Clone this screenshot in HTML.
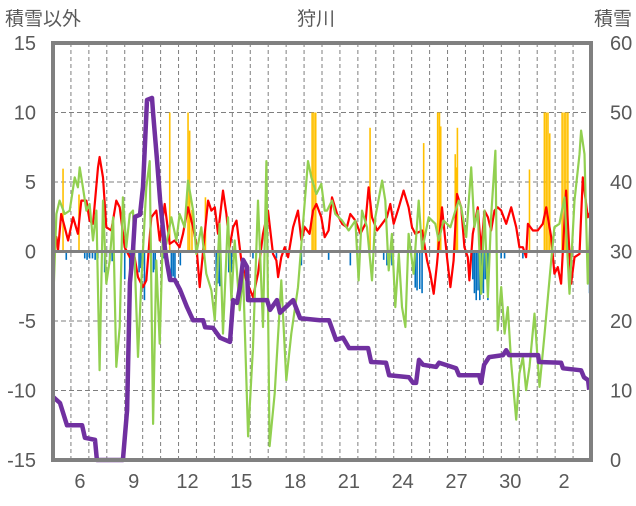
<!DOCTYPE html>
<html><head><meta charset="utf-8">
<style>
html,body{margin:0;padding:0;background:#fff;}
svg text{font-family:"Liberation Sans","Noto Sans CJK JP",sans-serif;fill:#595959;}
</style></head>
<body>
<svg id="chart" width="636" height="501" viewBox="0 0 636 501" xmlns="http://www.w3.org/2000/svg">
<text x="5" y="25" font-size="19">積雪以外</text>
<text x="316" y="25" font-size="19" text-anchor="middle">狩川</text>
<text x="632" y="25" font-size="19" text-anchor="end">積雪</text>
<g id="grid"></g>
<g id="bars"></g>
<g id="lines"></g>
<g id="frame"></g>
<g id="labels"></g>
</svg>
<script>
const dayLabels = ["6","9","12","15","18","21","24","27","30","2"];
const dayLabelIdx = [1,4,7,10,13,16,19,22,25,28];
const leftTicks = [15,10,5,0,-5,-10,-15];
const rightTicks = [60,50,40,30,20,10,0];

const redT = [0,.19,.28,.46,.65,.84,1.12,1.39,1.58,1.86,2.04,2.23,2.51,2.6,2.79,2.97,3.25,3.53,3.72,4.0,4.28,4.55,4.74,5.02,5.2,5.48,5.76,5.95,6.23,6.51,6.78,7.06,7.25,
7.53,7.81,7.99,8.18,8.46,8.65,8.83,9.02,9.2,9.48,9.67,9.85,10.04,10.23,10.5,10.78,11.15,11.43,11.71,11.99,12.27,12.46,12.55,12.73,12.92,13.11,13.39,13.66,13.85,14.04,14.31,14.5,14.69,14.96,
15.15,15.37,15.56,15.84,16.12,16.39,16.58,16.86,17.14,17.42,17.6,17.79,18.07,18.35,18.62,18.81,19.0,19.28,19.55,19.83,20.02,20.2,20.58,20.86,21.04,21.23,21.41,21.69,21.97,22.16,22.34,22.53,
22.76,22.94,23.13,23.22,23.41,23.69,23.87,24.06,24.25,24.43,24.62,24.8,24.99,25.27,25.55,25.83,26.01,26.2,26.38,26.48,26.76,27.03,27.31,27.5,27.78,27.96,28.15,28.33,28.61,28.89,29.08,29.36,29.54,29.82,30.0];
const redV = [1.27,1.03,0.07,2.7,1.75,0.79,2.46,1.27,3.66,3.66,2.22,1.99,6.05,6.8,5.33,1.75,1.51,3.66,3.18,0.31,-0.41,-0.41,-1.84,-2.56,-2.08,2.46,2.94,0.79,3.42,0.55,0.79,0.31,1.27,
3.18,1.75,0.55,-2.56,1.27,3.66,2.94,3.18,1.27,4.38,2.7,0.31,1.75,2.22,-0.65,-2.08,-3.28,-1.6,1.27,2.94,-0.17,-0.65,-1.84,-0.41,0.31,-0.41,1.75,2.94,0.79,1.75,1.27,2.94,3.42,2.46,
1.03,1.51,3.9,2.7,1.99,1.75,2.7,2.22,1.27,1.99,4.62,2.46,1.51,1.99,2.46,3.42,1.99,3.18,4.38,3.18,1.75,1.27,1.51,-0.65,-1.6,-3.04,-0.89,3.18,-0.41,-2.56,-0.65,4.14,
3.18,0.31,-0.41,-2.08,1.27,3.18,0.07,2.94,2.46,1.51,2.94,3.18,2.94,1.99,3.18,1.75,0.31,0.31,-0.41,1.99,1.51,1.51,1.99,3.18,1.03,-1.6,-1.12,-2.32,4.38,-2.32,-0.41,-0.17,5.33,2.46,2.94];

const greenT = [0,.19,.37,.65,.93,1.21,1.39,1.49,1.67,1.86,2.04,2.23,2.42,2.6,2.79,2.97,3.16,3.35,3.53,3.72,3.9,4.09,4.28,4.46,4.74,4.93,5.2,5.39,5.58,5.76,5.95,6.13,6.32,6.6,6.88,7.06,7.34,
7.53,7.81,7.99,8.27,8.55,8.83,9.02,9.29,9.48,9.76,9.95,10.13,10.41,10.6,10.88,11.15,11.43,11.71,11.9,12.08,12.36,12.73,13.01,13.29,13.66,13.94,14.22,14.41,14.69,14.96,15.15,
15.28,15.56,15.74,16.12,16.49,16.86,17.04,17.23,17.51,17.79,17.97,18.35,18.53,18.72,18.9,19.09,19.28,19.46,19.65,19.83,20.11,20.39,20.58,20.95,21.32,21.51,21.78,22.16,22.44,22.62,
22.76,23.04,23.32,23.5,23.69,23.87,24.06,24.25,24.43,24.67,24.8,24.99,25.18,25.36,25.55,25.83,26.01,26.2,26.38,26.57,26.85,27.13,27.41,27.78,27.96,28.24,28.52,28.8,29.08,29.36,29.45,29.64,29.82,30.0];
const greenV = [-4.0,2.7,3.66,2.7,2.94,5.33,4.62,6.05,4.62,2.94,3.42,0.79,2.94,-8.54,3.66,-2.32,-0.65,2.46,-8.3,-5.43,3.9,0.31,2.7,2.94,-7.58,-2.08,4.62,6.5,-12.4,-0.65,-6.63,1.27,0.55,2.46,0.79,2.7,1.75,
5.1,2.94,-0.17,1.75,-1.6,-2.8,-4.95,1.99,-5.91,2.46,-3.52,0.79,-4.23,-1.6,-13.3,-6.87,3.66,-5.43,6.5,-14.0,-10.2,-2.08,-9.26,-5.91,-2.56,1.99,6.5,5.33,4.14,4.86,2.94,
2.94,3.66,2.7,2.22,1.51,2.22,-2.08,2.94,1.75,-2.08,2.46,5.1,3.66,-1.36,1.27,-4.0,-0.17,-4.0,-5.43,1.27,-1.6,3.66,0.07,2.46,1.99,0.79,2.22,1.75,2.94,3.66,
3.18,1.03,6.05,1.75,2.94,-3.04,2.94,-3.28,2.46,7.25,-5.67,-2.56,-5.91,-4.0,-8.06,-12.1,-8.78,-7.58,-9.98,-8.3,-4.47,-9.74,-5.91,-0.65,1.75,1.99,3.9,-3.04,3.66,7.0,8.7,7.0,-2.32,3.66];

const snowT = [0,.39,.78,1.62,1.78,2.34,2.45,3.9,4.13,4.29,4.46,4.57,4.85,5.02,5.24,5.52,5.58,5.8,5.97,6.25,6.36,6.53,6.8,7.08,7.47,7.81,8.37,8.48,8.92,9.31,9.87,10.04,10.26,10.43,10.6,10.82,10.88,11.94,12.1,12.49,12.66,13.39,13.78,14.89,15.39,15.78,16.17,16.51,17.57,17.74,18.57,18.74,19.85,20.08,20.25,20.41,20.64,21.36,21.53,22.48,22.64,23.76,23.87,24.04,24.32,25.1,25.27,25.43,27.05,27.1,28.33,28.44,29.45,29.61,29.84,29.9];
const snowV = [9.1,8.2,5.0,5.0,3.2,2.9,0,0,7.2,25.5,30.2,35.0,35.3,39.3,51.8,52.1,49.9,43.2,37.4,30.2,28.3,25.9,25.9,24.5,22.0,20.1,20.1,19.1,19.0,17.6,17.0,23.0,22.6,24.9,28.8,27.8,23.0,23.0,21.6,23.0,21.2,23.0,20.4,20.1,20.1,17.3,17.6,16.1,16.1,14.1,14.0,12.2,11.9,11.1,11.1,14.4,13.7,13.4,14.0,13.2,12.2,12.2,11.1,13.7,14.8,15.1,15.8,15.1,15.1,14.1,14.0,13.2,12.9,11.9,11.5,10.1];

const orangeT = [0.56,1.45,6.51,7.53,7.62,7.75,8.5,14.45,14.55,14.65,17.68,20.67,21.45,21.55,21.62,22.43,22.48,22.55,26.57,27.4,27.5,27.6,27.7,28.39,28.5,28.6,28.71];
const orangeV = [5.96,4.1,10,10,8.7,3.0,3.9,10,10,10,8.9,7.8,10,10,9.0,7.0,6.05,8.9,5.9,10,10,10,8.5,10,10,10,10];
const blueT = [0.74,1.77,1.9,2.04,2.2,2.35,2.5,2.88,3.16,3.3,4.0,4.28,4.8,4.9,5.1,5.6,5.7,6.15,6.3,6.6,6.7,6.8,7.1,8.37,9.1,9.2,9.3,9.8,9.95,11.15,12.46,13.85,15.37,16.58,18.44,18.62,18.9,20.2,20.3,20.45,20.58,23.41,23.5,23.6,23.7,23.8,23.9,24.0,24.1,24.25,24.99,25.18,26.2,29.92];
const blueV = [-0.6,-0.5,-0.6,-0.5,-0.5,-0.6,-0.5,-1.5,-0.7,-0.7,-2.0,-5.0,-1.5,-1.2,-3.5,-1.5,-1.3,-0.5,-0.5,-2.0,-1.8,-2.0,-1.0,-0.5,-2.5,-2.3,-2.5,-1.5,-1.5,-0.5,-0.5,-1.0,-0.6,-1.0,-0.6,-1.0,-1.0,-2.6,-2.8,-2.7,-3.0,-2.0,-3.0,-3.5,-2.8,-3.5,-2.5,-3.0,-2.0,-3.5,-0.5,-0.5,-0.5,-3.0];

const X0 = 53, X1 = 591, Y0 = 43, Y1 = 460, NDAYS = 30;
const NS = 'http://www.w3.org/2000/svg';
function xs(t){ return X0 + t*(X1-X0)/NDAYS; }
function yl(v){ return Y1 - (v+15)*(Y1-Y0)/30; }
function yr(v){ return Y1 - v*(Y1-Y0)/60; }
function mk(tag, attrs, parent){
  const e = document.createElementNS(NS, tag);
  for (const k in attrs) e.setAttribute(k, attrs[k]);
  parent.appendChild(e);
  return e;
}
const grid = document.getElementById('grid');
const bars = document.getElementById('bars');
const lines = document.getElementById('lines');
const frame = document.getElementById('frame');
const labels = document.getElementById('labels');

for (let k = 1; k < NDAYS; k++) {
  const l = mk('line', {x1: xs(k), x2: xs(k), y1: Y0, y2: Y1, stroke: '#7f7f7f', 'stroke-width': 1, 'stroke-dasharray': '4,3'}, grid);
  
  
}
[10,5,-5,-10].forEach(v => {
  const l = mk('line', {x1: X0, x2: X1, y1: yl(v), y2: yl(v), stroke: '#7f7f7f', 'stroke-width': 1, 'stroke-dasharray': '5,3'}, grid);
  
  
});

const bw = 1.6;
orangeT.forEach((t, i) => {
  const r = mk('rect', {x: xs(t) - bw/2, y: yl(orangeV[i]), width: bw, height: yl(0) - yl(orangeV[i]), fill: '#ffc000'}, bars);
  
  
});
blueT.forEach((t, i) => {
  const r = mk('rect', {x: xs(t) - bw/2, y: yl(0), width: bw, height: yl(blueV[i]) - yl(0), fill: '#0070c0'}, bars);
  
  
});

function pathFrom(T, V, yf){
  return T.map((t, i) => (i ? 'L' : 'M') + xs(t).toFixed(1) + ',' + yf(V[i]).toFixed(1)).join(' ');
}
const red = mk('path', {d: pathFrom(redT, redV, yl), fill: 'none', stroke: '#ff0000', 'stroke-width': 2.2, 'stroke-linejoin': 'round'}, lines);


const green = mk('path', {d: pathFrom(greenT, greenV, yl), fill: 'none', stroke: '#92d050', 'stroke-width': 2.2, 'stroke-linejoin': 'round'}, lines);


const snow = mk('path', {d: pathFrom(snowT, snowV, yr), fill: 'none', stroke: '#7030a0', 'stroke-width': 4.5, 'stroke-linejoin': 'round'}, lines);



const zl = mk('line', {x1: X0, x2: X1, y1: yl(0), y2: yl(0), stroke: '#808080', 'stroke-width': 3}, frame);


const fr = mk('rect', {x: X0, y: Y0, width: X1 - X0, height: Y1 - Y0, fill: 'none', stroke: '#808080', 'stroke-width': 4}, frame);



leftTicks.forEach(v => {
  const t = mk('text', {x: 36, y: yl(v) + 7, 'font-size': 20, 'text-anchor': 'end'}, labels);
  t.textContent = v;
  
  
});
rightTicks.forEach(v => {
  const t = mk('text', {x: 610, y: yr(v) + 7, 'font-size': 20, 'text-anchor': 'start'}, labels);
  t.textContent = v;
  
  
});
dayLabels.forEach((s, i) => {
  const t = mk('text', {x: xs(dayLabelIdx[i] + 0.5), y: 488, 'font-size': 20, 'text-anchor': 'middle'}, labels);
  t.textContent = s;
  
  
});
</script>
</body></html>
